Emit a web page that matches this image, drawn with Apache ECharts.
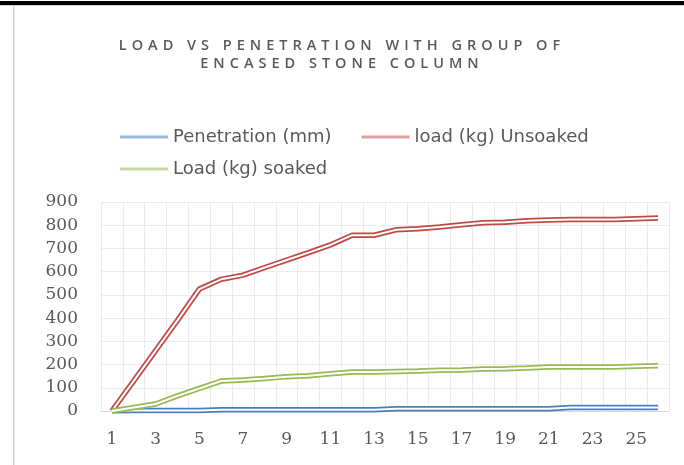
<!DOCTYPE html>
<html>
<head>
<meta charset="utf-8">
<script src="https://cdn.jsdelivr.net/npm/echarts@6/dist/echarts.min.js"></script>
<style>
  html, body { margin: 0; padding: 0; background: #fff; }
  #wrap { position: relative; width: 684px; height: 465px; }
  #chart { width: 684px; height: 465px; }
  #title {
    position: absolute; left: 0; top: 36px; width: 684px;
    text-align: center; color: #595959;
    font: 600 14.5px/18px "Open Sans", sans-serif; letter-spacing: 5px;
    pointer-events: none;
  }
</style>
</head>
<body>
<div id="wrap">
  <div id="chart"></div>
  <div id="title">LOAD VS PENETRATION WITH GROUP OF<br>ENCASED STONE COLUMN</div>
</div>
<script>
// x categories 1..26
var categories = ['1', '2', '3', '4', '5', '6', '7', '8', '9', '10', '11', '12', '13',
    '14', '15', '16', '17', '18', '19', '20', '21', '22', '23', '24', '25', '26'];
var penetration = [0, 2, 2, 2, 2, 5, 5, 5, 5, 5, 5, 5, 5,
    10, 10, 10, 10, 10, 10, 10, 10, 15, 15, 15, 15, 15];
var loadUnsoaked = [0, 130, 260, 390, 525, 567, 585, 618, 650, 682, 715, 757, 757,
    780, 785, 792, 802, 811, 813, 819, 823, 825, 825, 825, 828, 831];
var loadSoaked = [0, 15, 30, 65, 97, 129, 133, 140, 148, 152, 160, 168, 168,
    170, 172, 175, 177, 181, 182, 185, 189, 190, 190, 190, 193, 195];

var names = ['Penetration (mm)', 'load (kg) Unsoaked', 'Load (kg) soaked'];
var colors = ['#4a7ebb', '#be4b48', '#98b954'];
var lightColors = ['#9db8de', '#e0a09e', '#c6da9e'];
var values = [penetration, loadUnsoaked, loadSoaked];

var myChart = echarts.init(document.getElementById('chart'));

// excel "double" line: wide coloured stroke with a thin white stroke on top
var series = [];
values.forEach(function (d, i) {
    series.push({
        name: names[i],
        type: 'line',
        data: d,
        symbol: 'none',
        color: colors[i],
        lineStyle: { width: 5.5, color: colors[i] },
        z: 2 + i * 2
    });
    series.push({
        name: names[i] + ' inner',
        type: 'line',
        data: d,
        symbol: 'none',
        silent: true,
        lineStyle: { width: 2, color: '#ffffff' },
        z: 3 + i * 2
    });
});

function legendItem(i) {
    return { name: names[i], icon: 'rect', itemStyle: { color: lightColors[i] } };
}

var legendText = { color: '#595959', fontSize: 18, fontFamily: 'DejaVu Sans' };

var option = {
    animation: false,
    backgroundColor: '#ffffff',
    legend: [{
        left: 115, top: 123,
        itemWidth: 48, itemHeight: 3, itemGap: 30,
        textStyle: legendText,
        data: [legendItem(0), legendItem(1)]
    }, {
        left: 115, top: 155,
        itemWidth: 48, itemHeight: 3,
        textStyle: legendText,
        data: [legendItem(2)]
    }],
    grid: { left: 101, right: 15, top: 202, bottom: 54 },
    xAxis: {
        type: 'category',
        data: categories,
        boundaryGap: true,
        axisTick: { show: false },
        axisLine: { lineStyle: { color: '#d9d9d9', width: 1 } },
        axisLabel: { interval: 1, margin: 20, color: '#595959', fontSize: 17, fontFamily: 'DejaVu Serif' },
        splitLine: { show: true, interval: 0, lineStyle: { color: '#ebebeb' } }
    },
    yAxis: {
        type: 'value',
        min: 0, max: 900, interval: 100,
        axisLine: { show: false },
        axisTick: { show: false },
        axisLabel: { margin: 23, color: '#595959', fontSize: 17, fontFamily: 'DejaVu Serif' },
        splitLine: { lineStyle: { color: '#ebebeb' } }
    },
    graphic: [
        { type: 'rect', shape: { x: 0, y: 1, width: 684, height: 4 }, style: { fill: '#000' }, silent: true },
        { type: 'rect', shape: { x: 0, y: 5, width: 684, height: 1 }, style: { fill: '#cfcfcf' }, silent: true },
        { type: 'rect', shape: { x: 13, y: 5, width: 1.5, height: 460 }, style: { fill: '#d4d4d4' }, silent: true }
    ],
    series: series
};
myChart.setOption(option);
</script>
</body>
</html>
